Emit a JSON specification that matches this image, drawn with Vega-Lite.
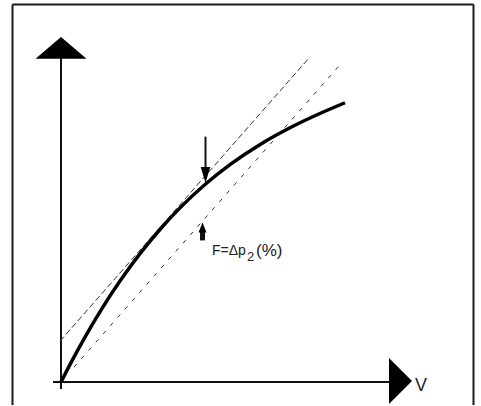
{
  "$schema": "https://vega.github.io/schema/vega-lite/v6.json",
  "width": 481,
  "height": 406,
  "padding": 0,
  "autosize": {"type": "fit", "contains": "padding"},
  "background": "white",
  "config": {"view": {"stroke": null}},
  "datasets": {
    "frame": [
      {"side": "left", "x": -0.97, "y": -0.46, "x2": -0.97, "y2": 7.57},
      {"side": "top", "x": -0.97, "y": 7.57, "x2": 8.25, "y2": 7.57},
      {"side": "right", "x": 8.25, "y": 7.57, "x2": 8.25, "y2": -0.46}
    ],
    "axes": [
      {"axis": "y", "x": 0, "y": -0.14, "x2": 0, "y2": 6.5},
      {"axis": "x", "x": -0.16, "y": 0, "x2": 6.6, "y2": 0}
    ],
    "curve": [
      {"x": 0, "y": 0},
      {"x": 0.2, "y": 0.39},
      {"x": 0.5, "y": 0.938},
      {"x": 0.8, "y": 1.443},
      {"x": 1.2, "y": 2.054},
      {"x": 1.6, "y": 2.599},
      {"x": 2.0, "y": 3.084},
      {"x": 2.4, "y": 3.512},
      {"x": 2.88, "y": 3.96},
      {"x": 3.4, "y": 4.374},
      {"x": 4.0, "y": 4.774},
      {"x": 4.6, "y": 5.108},
      {"x": 5.2, "y": 5.394},
      {"x": 5.68, "y": 5.6}
    ],
    "tangent": [{"x": -0.02, "y": 0.82, "x2": 4.98, "y2": 6.52}],
    "secant": [{"x": 0.26, "y": 0.3, "x2": 5.58, "y2": 6.36}],
    "stems": [
      {"name": "down", "x": 2.89, "y": 4.92, "x2": 2.89, "y2": 4.22, "w": 2},
      {"name": "up", "x": 2.83, "y": 3.06, "x2": 2.83, "y2": 2.84, "w": 5}
    ],
    "headY": [{"x": 0, "y": 6.7}],
    "headX": [{"x": 6.79, "y": 0.02}],
    "headDown": [{"x": 2.89, "y": 4.15}],
    "headUp": [{"x": 2.83, "y": 3.1}],
    "labelMain": [{"x": 3.02, "y": 2.54, "t": "F=Δp"}],
    "labelSub": [{"x": 3.72, "y": 2.42, "t": "2"}],
    "labelPct": [{"x": 3.9, "y": 2.52, "t": "(%)"}],
    "labelV": [{"x": 7.08, "y": -0.18, "t": "V"}]
  },
  "encoding": {
    "x": {"field": "x", "type": "quantitative", "scale": {"domain": [-1.22, 8.4], "nice": false, "zero": false}, "axis": null},
    "y": {"field": "y", "type": "quantitative", "scale": {"domain": [-0.46, 7.66], "nice": false, "zero": false}, "axis": null}
  },
  "layer": [
    {
      "data": {"name": "frame"},
      "mark": {"type": "rule", "color": "#1a1a1a", "strokeWidth": 2},
      "encoding": {"x2": {"field": "x2"}, "y2": {"field": "y2"}, "detail": {"field": "side"}}
    },
    {
      "data": {"name": "axes"},
      "mark": {"type": "rule", "color": "#111111", "strokeWidth": 2},
      "encoding": {"x2": {"field": "x2"}, "y2": {"field": "y2"}, "detail": {"field": "axis"}}
    },
    {
      "data": {"name": "tangent"},
      "mark": {"type": "rule", "color": "#333333", "strokeWidth": 1, "strokeDash": [6, 3]},
      "encoding": {"x2": {"field": "x2"}, "y2": {"field": "y2"}}
    },
    {
      "data": {"name": "secant"},
      "mark": {"type": "rule", "color": "#333333", "strokeWidth": 1, "strokeDash": [4, 7]},
      "encoding": {"x2": {"field": "x2"}, "y2": {"field": "y2"}}
    },
    {
      "data": {"name": "curve"},
      "mark": {"type": "line", "color": "#000000", "strokeWidth": 3.5, "interpolate": "monotone"},
      "encoding": {"order": {"field": "x", "type": "quantitative"}}
    },
    {
      "data": {"name": "stems"},
      "mark": {"type": "rule", "color": "#111111"},
      "encoding": {"x2": {"field": "x2"}, "y2": {"field": "y2"}, "detail": {"field": "name"}, "strokeWidth": {"field": "w", "type": "quantitative", "scale": null}}
    },
    {
      "data": {"name": "headY"},
      "mark": {"type": "point", "shape": "M-1,0.43L1,0.43L0,-0.43Z", "size": 2601, "filled": true, "color": "#000000", "opacity": 1}
    },
    {
      "data": {"name": "headX"},
      "mark": {"type": "point", "shape": "M-0.5,-1L-0.5,1L0.5,0Z", "size": 2116, "filled": true, "color": "#000000", "opacity": 1}
    },
    {
      "data": {"name": "headDown"},
      "mark": {"type": "point", "shape": "M-0.6,-1L0.6,-1L0,1Z", "size": 256, "filled": true, "color": "#000000", "opacity": 1}
    },
    {
      "data": {"name": "headUp"},
      "mark": {"type": "point", "shape": "M0,-1L0.8,1L-0.8,1Z", "size": 100, "filled": true, "color": "#000000", "opacity": 1}
    },
    {
      "data": {"name": "labelMain"},
      "mark": {"type": "text", "align": "left", "baseline": "alphabetic", "font": "Liberation Sans", "fontSize": 14, "color": "#222222"},
      "encoding": {"text": {"field": "t"}}
    },
    {
      "data": {"name": "labelSub"},
      "mark": {"type": "text", "align": "left", "baseline": "alphabetic", "font": "Liberation Sans", "fontSize": 13, "color": "#222222"},
      "encoding": {"text": {"field": "t"}}
    },
    {
      "data": {"name": "labelPct"},
      "mark": {"type": "text", "align": "left", "baseline": "alphabetic", "font": "Liberation Sans", "fontSize": 17, "color": "#222222"},
      "encoding": {"text": {"field": "t"}}
    },
    {
      "data": {"name": "labelV"},
      "mark": {"type": "text", "align": "left", "baseline": "alphabetic", "font": "Liberation Sans", "fontSize": 18, "color": "#222222"},
      "encoding": {"text": {"field": "t"}}
    }
  ]
}
